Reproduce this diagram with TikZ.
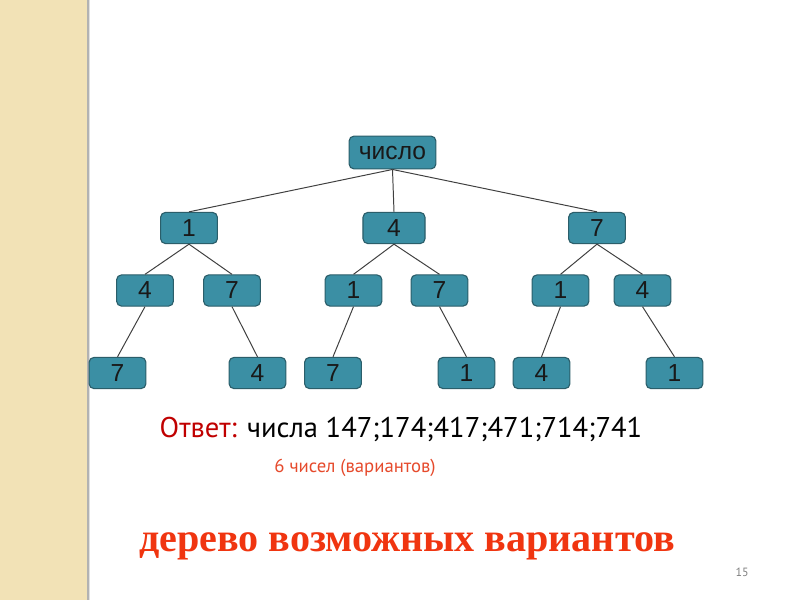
\documentclass[tikz,border=0pt]{standalone}
\usepackage{fontspec}
\setmainfont{Liberation Serif}
\newfontfamily\boxfont{Liberation Sans}
\newfontfamily\gillfont{PT Sans}
\usetikzlibrary{positioning}
\definecolor{boxteal}{HTML}{3B8FA4}
\definecolor{boxedge}{HTML}{2B5E6A}
\definecolor{bandbeige}{HTML}{F2E2B6}
\definecolor{answerred}{HTML}{C00000}
\definecolor{noteorange}{HTML}{E64A2C}
\definecolor{titlered}{HTML}{F03510}
\tikzset{
	treenode/.style={
			rectangle,
			rounded corners=3.5pt,
			draw=boxedge,
			fill=boxteal,
			line width=0.8pt,
			minimum width=1.42cm,
			minimum height=0.78cm,
			inner sep=0pt,
			font=\boxfont\fontsize{17.5}{20}\selectfont,
			text=black!90
		},
	rootnode/.style={
			treenode,
			minimum width=2.17cm,
			minimum height=0.82cm
		},
	branch/.style={
			draw=black!75,
			line width=0.7pt
		}
}

\begin{document}
\begin{tikzpicture}[x=0.025cm, y=-0.025cm]
\useasboundingbox (0,0) rectangle (800,600);
\fill[white] (0,0) rectangle (800,600);
% left band of the slide
\fill[bandbeige] (0,0) rectangle (88,600);
\draw[black!30, line width=0.8pt] (88,0) -- (88,600);
\draw[black!12, line width=0.8pt] (89.5,0) -- (89.5,600);

\node[rootnode] (n0) at (392.5,152.5) { число };

\node[treenode] (n1) at (189,228) { 1 };
\node[treenode, minimum width=1.55cm] (n2) at (394,228) { 4 };
\node[treenode] (n3) at (597,228) { 7 };

\node[treenode] (n4) at (145,290.5) { 4 };
\node[treenode] (n5) at (232,290.5) { 7 };
\node[treenode] (n6) at (353.5,290.5) { 1 };
\node[treenode] (n7) at (439.5,290.5) { 7 };
\node[treenode] (n8) at (560.5,290.5) { 1 };
\node[treenode] (n9) at (642.5,290.5) { 4 };

\node[treenode] (n10) at (117.5,373) { 7 };
\node[treenode] (n11) at (257.5,373) { 4 };
\node[treenode] (n12) at (333,373) { 7 };
\node[treenode] (n13) at (466.5,373) { 1 };
\node[treenode] (n14) at (541.5,373) { 4 };
\node[treenode] (n15) at (674.5,373) { 1 };

\draw[branch] (n0.south) -- (n1.north);
\draw[branch] (n0.south) -- (n2.north);
\draw[branch] (n0.south) -- (n3.north);

\draw[branch] (n1.south) -- (n4.north);
\draw[branch] (n1.south) -- (n5.north);
\draw[branch] (n2.south) -- (n6.north);
\draw[branch] (n2.south) -- (n7.north);
\draw[branch] (n3.south) -- (n8.north);
\draw[branch] (n3.south) -- (n9.north);

\draw[branch] (n4.south) -- (n10.north);
\draw[branch] (n5.south) -- (n11.north);
\draw[branch] (n6.south) -- (n12.north);
\draw[branch] (n7.south) -- (n13.north);
\draw[branch] (n8.south) -- (n14.north);
\draw[branch] (n9.south) -- (n15.north);

% answer and notes
\node[anchor=base, inner sep=0pt, font=\gillfont\fontsize{20.3}{23}\selectfont] (answer) at (401,437)
  {\textcolor{answerred}{Ответ:} числа 147;174;417;471;714;741};
\node[anchor=base, inner sep=0pt, text=noteorange, font=\gillfont\fontsize{13.3}{15}\selectfont] (count) at (355,472)
  {6 чисел (вариантов)};
\node[anchor=base, inner sep=0pt, text=titlered, font=\bfseries\fontsize{28.5}{32}\selectfont] (title) at (407,551)
  {дерево возможных вариантов};
\node[anchor=base east, inner sep=0pt, text=black!50, font=\gillfont\fontsize{8.5}{10}\selectfont] (page) at (749,576) {15};
\end{tikzpicture}
\end{document}
